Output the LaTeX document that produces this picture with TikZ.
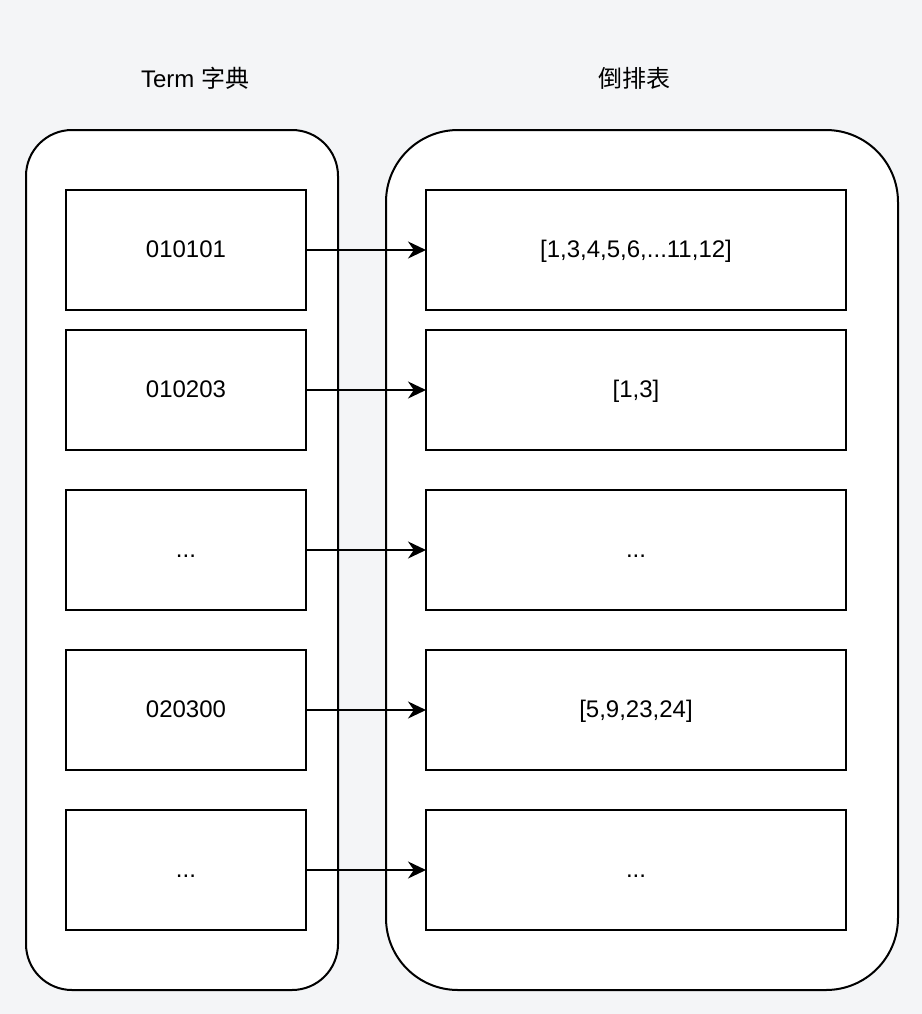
\documentclass[tikz,border=0pt]{standalone}
\usepackage{fontspec}
\setmainfont{Liberation Sans}
\newfontfamily\cjk{Noto Sans CJK SC}
\usetikzlibrary {arrows.meta,
                 positioning}
\definecolor{canvas}{HTML}{F4F5F7}
\tikzset{
        base/.style={draw, line width=1pt, fill=white, align=center},
        item/.style={base, rectangle, minimum width=120pt, minimum height=60pt,
                     outer sep=0pt, text height=9pt, text depth=2pt},
        posting/.style={item, minimum width=210pt},
        group/.style={base, rectangle, minimum height=430pt},
        myarrow/.style={-{Stealth[length=9pt, width=8.5pt]}, line width=1pt},
 }

\begin{document}
\begin{tikzpicture}[x=0.5pt, y=-0.5pt, font=\fontsize{12}{14}\selectfont]
    \useasboundingbox[fill=canvas] (0,0) rectangle (922,1014);

    \node (dtitle) at (195,78) {Term {\cjk 字典}};
    \node (ptitle) at (634,78) {\cjk 倒排表};

    \node[group, minimum width=156pt, rounded corners=23pt] (dict) at (182,560) {};
    \node[group, minimum width=256pt, rounded corners=36pt] (post) at (642,560) {};

    \node[item] (t1) at (186,250) {010101};
    \node[item, below=10pt of t1] (t2) {010203};
    \node[item, below=20pt of t2] (t3) {...};
    \node[item, below=20pt of t3] (t4) {020300};
    \node[item, below=20pt of t4] (t5) {...};

    \node[posting, right=60pt of t1] (p1) {[1,3,4,5,6,...11,12]};
    \node[posting, right=60pt of t2] (p2) {[1,3]};
    \node[posting, right=60pt of t3] (p3) {...};
    \node[posting, right=60pt of t4] (p4) {[5,9,23,24]};
    \node[posting, right=60pt of t5] (p5) {...};

    \draw[myarrow] (t1) -- (p1);
    \draw[myarrow] (t2) -- (p2);
    \draw[myarrow] (t3) -- (p3);
    \draw[myarrow] (t4) -- (p4);
    \draw[myarrow] (t5) -- (p5);
\end{tikzpicture}
\end{document}
